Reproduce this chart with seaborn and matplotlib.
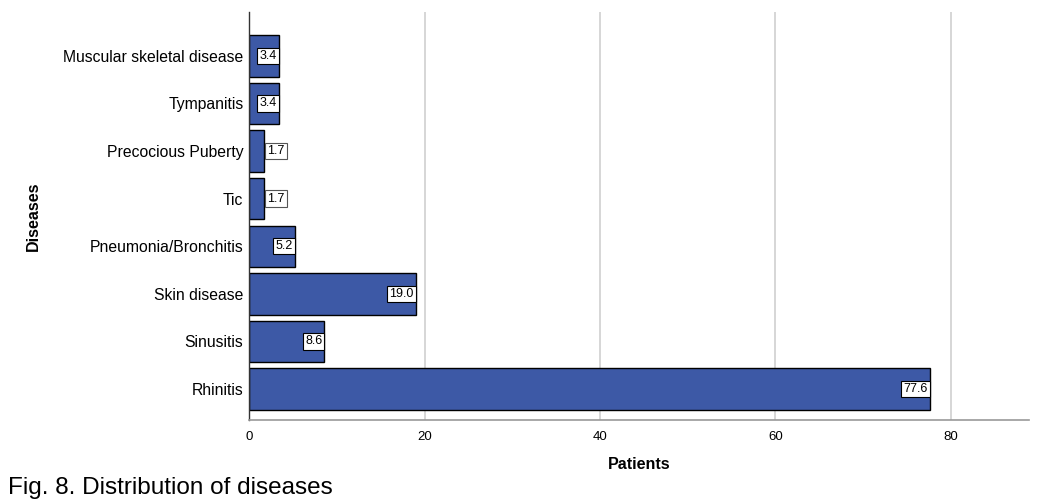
import numpy as np
import pandas as pd
import seaborn as sns
import matplotlib.pyplot as plt

## Data: ========================================================================
diseases = ["Muscular skeletal disease", "Tympanitis", "Precocious Puberty", "Tic",
            "Pneumonia/Bronchitis", "Skin disease", "Sinusitis", "Rhinitis"]
patients = [3.4, 3.4, 1.7, 1.7, 5.2, 19.0, 8.6, 77.6]
x_ticks = [0, 20, 40, 60, 80]

df = pd.DataFrame({"Diseases": diseases, "Patients": patients})

## Plot: ========================================================================
sns.set_theme(style="white")
plt.rcParams['font.family'] = ['Liberation Sans', 'DejaVu Sans']
plt.rcParams['text.color'] = 'black'
plt.rcParams['axes.labelcolor'] = 'black'
plt.rcParams['xtick.color'] = 'black'
plt.rcParams['ytick.color'] = 'black'

fig = plt.figure(figsize=(10.49, 5.04), dpi=100)
ax = fig.add_axes([0.2374, 0.1667, 0.7436, 0.8095])

ax.grid(axis="x", color="#d0d0d0", lw=1.2, zorder=0)
ax.set_axisbelow(True)
sns.barplot(data=df, x="Patients", y="Diseases", orient="h", color="#3d59a6",
            saturation=1, width=0.87, edgecolor="black", linewidth=1, ax=ax, zorder=2)

for bar, val in zip(ax.patches, patients):
    y = bar.get_y() + bar.get_height() / 2
    x_end = bar.get_width()
    if val >= 3:
        ax.text(x_end - 0.25, y, "{:.1f}".format(val), ha="right", va="center", fontsize=9,
                bbox=dict(facecolor="white", edgecolor="black", lw=0.8, pad=1.5), zorder=5)
    else:
        ax.text(x_end + 0.35, y, "{:.1f}".format(val), ha="left", va="center", fontsize=9,
                bbox=dict(facecolor="white", edgecolor="#555555", lw=0.8, pad=1.5), zorder=5)

ax.set_xlim(0, 88.9)
ax.set_ylim(7.65, -0.92)
ax.set_xticks(x_ticks)
ax.tick_params(axis="x", labelsize=9.5, length=0, pad=8)
ax.tick_params(axis="y", labelsize=11.3, length=0, pad=4)

for s in ["top", "right"]:
    ax.spines[s].set_visible(False)
ax.spines["left"].set_color("#333333")
ax.spines["bottom"].set_color("#999999")
ax.spines["left"].set_linewidth(1)
ax.spines["bottom"].set_linewidth(1.2)

ax.set_xlabel("Patients", fontsize=11.5, fontweight="bold", labelpad=10)
ax.set_ylabel("Diseases", fontsize=11.5, fontweight="bold", labelpad=16)
fig.text(0.008, 0.01, "Fig. 8. Distribution of diseases", fontsize=17.5, ha="left", va="bottom")

plt.savefig("out.png", dpi=100)
plt.close()
